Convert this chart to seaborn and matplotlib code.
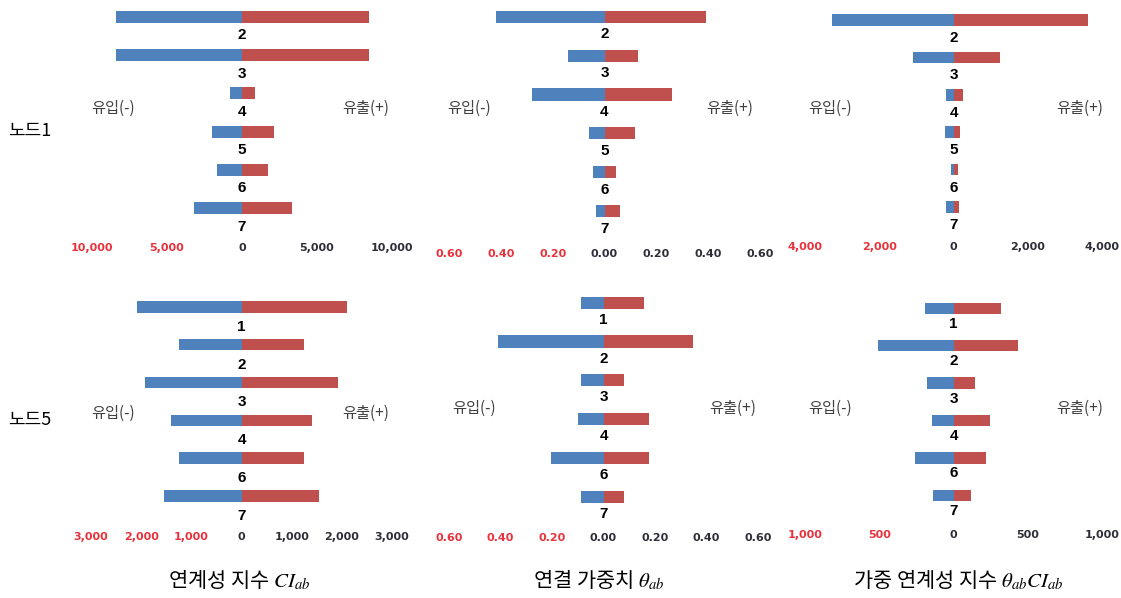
import numpy as np
import pandas as pd
import matplotlib
matplotlib.use("Agg")
import matplotlib.pyplot as plt
import seaborn as sns

sns.set_theme(style="white")
plt.rcParams['font.family'] = ['Noto Sans CJK KR', 'DejaVu Sans']
plt.rcParams['mathtext.fontset'] = 'stix'

# ---------------- data ----------------
nodes_n1 = ['2', '3', '4', '5', '6', '7']
nodes_n5 = ['1', '2', '3', '4', '6', '7']

ci_in_n1 = [8370, 8370, 770, 2020, 1650, 3220]
ci_out_n1 = [8470, 8470, 850, 2110, 1710, 3310]
theta_in_n1 = [0.42, 0.14, 0.28, 0.06, 0.046, 0.031]
theta_out_n1 = [0.39, 0.13, 0.26, 0.117, 0.046, 0.058]
wci_in_n1 = [3280, 1100, 207, 234, 54, 189]
wci_out_n1 = [3630, 1240, 261, 162, 108, 135]

ci_in_n5 = [2090, 1240, 1915, 1400, 1240, 1540]
ci_out_n5 = [2095, 1250, 1917, 1405, 1250, 1545]
theta_in_n5 = [0.088, 0.41, 0.088, 0.10, 0.203, 0.088]
theta_out_n5 = [0.157, 0.347, 0.078, 0.176, 0.176, 0.078]
wci_in_n5 = [189, 509, 178, 145, 256, 138]
wci_out_n5 = [321, 433, 145, 243, 216, 120]

ci_ticks_n1 = [-10000, -5000, 0, 5000, 10000]
ci_ticks_n5 = [-3000, -2000, -1000, 0, 1000, 2000, 3000]
theta_ticks = [-0.6, -0.4, -0.2, 0.0, 0.2, 0.4, 0.6]
wci_ticks_n1 = [-4000, -2000, 0, 2000, 4000]
wci_ticks_n5 = [-1000, -500, 0, 500, 1000]

row_labels = ['노드1', '노드5']
col_titles = [r'연계성 지수 $CI_{ab}$', r'연결 가중치 $\theta_{ab}$',
              r'가중 연계성 지수 $\theta_{ab}CI_{ab}$']
in_label = '유입(-)'
out_label = '유출(+)'

# ---------------- style ----------------
W, H = 1121, 598
BLUE = '#4F81BD'
RED = '#C0504D'
NEG_TICK = '#E8323C'
POS_TICK = '#2E2E38'

fig = plt.figure(figsize=(W / 100, H / 100), dpi=100)
fig.patch.set_facecolor('white')


def fmt(v, kind):
    a = abs(v)
    if kind == 'theta':
        return f'{a:.2f}'
    return f'{a:,.0f}'


def panel(x_lo, x_hi, lim, row0, step, bottom_px, cats, vin, vout, ticks, kind,
          lab_off, in_xy, out_xy):
    ax = fig.add_axes([0, 0, 1, 1])
    df = pd.DataFrame({'node': cats, 'inflow': -np.array(vin, dtype=float),
                       'outflow': np.array(vout, dtype=float)})
    sns.barplot(data=df, x='inflow', y='node', orient='h', color=BLUE,
                width=0.31, saturation=1, linewidth=0, edgecolor='none', ax=ax)
    sns.barplot(data=df, x='outflow', y='node', orient='h', color=RED,
                width=0.31, saturation=1, linewidth=0, edgecolor='none', ax=ax)
    i_top = -0.45
    top_px = row0 + i_top * step
    i_bot = (bottom_px - row0) / step
    ax.set_position([x_lo / W, 1 - bottom_px / H, (x_hi - x_lo) / W,
                     (bottom_px - top_px) / H])
    ax.set_xlim(-lim, lim)
    ax.set_ylim(i_bot, i_top)
    for s in ax.spines.values():
        s.set_visible(False)
    ax.set_xlabel('')
    ax.set_ylabel('')
    ax.set_yticks([])
    ax.set_xticks(ticks)
    ax.set_xticklabels([fmt(t, kind) for t in ticks])
    ax.tick_params(axis='x', length=0, pad=2, labelsize=8)
    for t, lab in zip(ticks, ax.get_xticklabels()):
        lab.set_color(NEG_TICK if t < 0 else POS_TICK)
        lab.set_fontweight('bold')
        lab.set_fontfamily(['DejaVu Sans'])
    for i, c in enumerate(cats):
        ax.annotate(c, xy=(0, i), xytext=(0, -lab_off * 0.72),
                    textcoords='offset points', ha='center', va='center',
                    fontsize=11, fontweight='bold', color='black',
                    family=['Liberation Sans', 'DejaVu Sans'])
    fig.text(in_xy[0] / W, 1 - in_xy[1] / H, in_label, ha='center',
             va='center', fontsize=11, color='#404040')
    fig.text(out_xy[0] / W, 1 - out_xy[1] / H, out_label, ha='center',
             va='center', fontsize=11, color='#404040')
    return ax


# top row (노드1)
panel(92, 392, 10000, 16.7, 38.3, 240.5, nodes_n1, ci_in_n1, ci_out_n1,
      ci_ticks_n1, 'ci', 18.5, (113, 108), (366, 108))
panel(449, 760, 0.6, 16.7, 38.9, 246.5, nodes_n1, theta_in_n1, theta_out_n1,
      theta_ticks, 'theta', 17.5, (469, 108), (730, 108))
panel(805, 1102, 4000, 20, 37.4, 239.5, nodes_n1, wci_in_n1, wci_out_n1,
      wci_ticks_n1, 'wci', 18, (830, 108), (1080, 108))

# bottom row (노드5)
panel(91, 392, 3000, 306.7, 37.9, 529.5, nodes_n5, ci_in_n5, ci_out_n5,
      ci_ticks_n5, 'ci', 20, (113, 413), (366, 413))
panel(449, 758, 0.6, 302.7, 38.8, 530.5, nodes_n5, theta_in_n5, theta_out_n5,
      theta_ticks, 'theta', 17, (474, 408), (733, 408))
panel(805, 1102, 1000, 308.3, 37.4, 527.5, nodes_n5, wci_in_n5, wci_out_n5,
      wci_ticks_n5, 'wci', 15.5, (830, 408), (1080, 408))

# row labels
fig.text(8 / W, 1 - 131 / H, row_labels[0], ha='left', va='center',
         fontsize=13, color='black')
fig.text(8 / W, 1 - 420 / H, row_labels[1], ha='left', va='center',
         fontsize=13, color='black')

# column titles
for xc, t in zip([239, 599, 958], col_titles):
    fig.text(xc / W, 1 - 580 / H, t, ha='center', va='center', fontsize=15,
             color='black')

fig.savefig('out.png', dpi=100, facecolor='white')
